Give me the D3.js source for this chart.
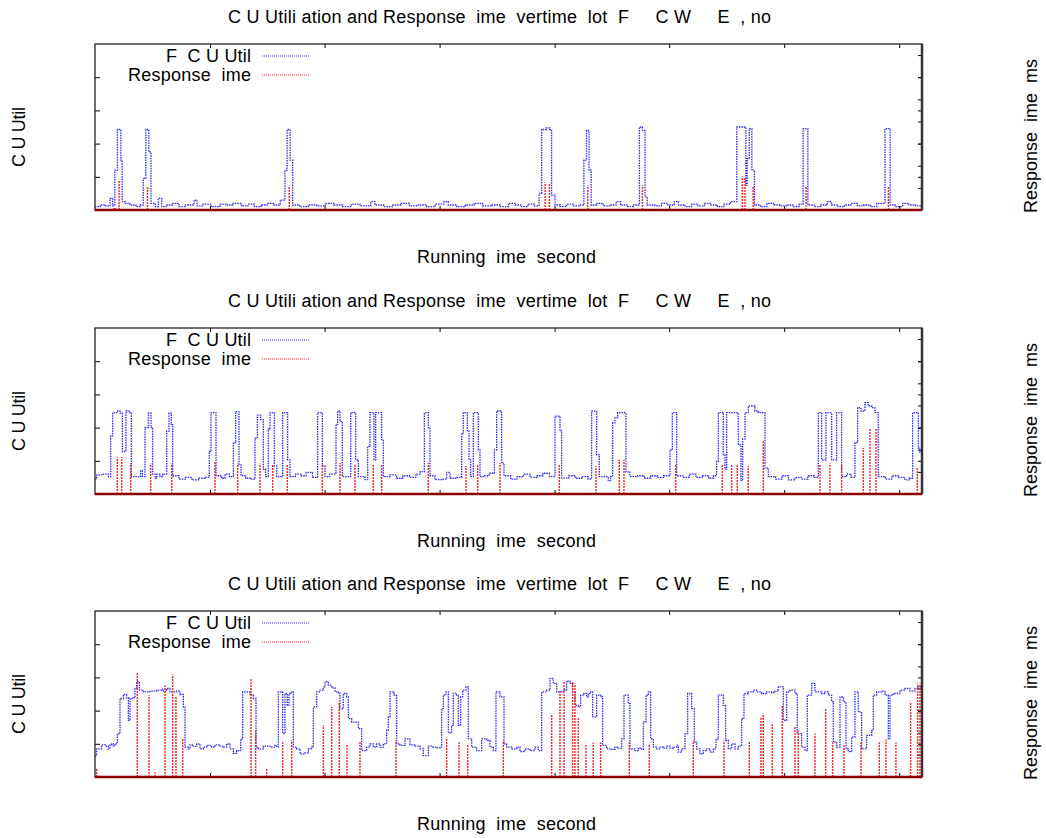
<!DOCTYPE html>
<html><head><meta charset="utf-8">
<script src="https://cdn.jsdelivr.net/npm/d3@7"></script>
<style>
body{margin:0;background:#fff}
text{font-family:"Liberation Sans",Arial,Helvetica,sans-serif;fill:#000;white-space:pre}
</style></head>
<body><svg id="chart" width="1046" height="838"></svg>
<script>
// ---------- texts ----------
const titleText = "C U Utili ation and Response  ime  vertime  lot  F     C W     E  , no";
const xLabelText = "Running  ime  second";
const yLabelText = "C U Util";
const y2LabelText = "Response  ime  ms";
const legendLabels = ["F  C U Util", "Response  ime"];

// ---------- ticks ----------
const xTicks = [267, 533, 800, 1067, 1333, 1600, 1867];
const cpuTicks = [20, 40, 60, 80];
const rtTicks = [200, 400, 600, 800, 1000, 1200, 1400];

// ---------- panel 1 ----------
const p1CpuT = [0,12,25,35,41,46,52,60,63,70,81,95,105,112,118,125,130,140,147,155,165,180,195,210,230,237,250,270,290,305,320,340,355,370,385,400,415,430,441,446,453,459,475,495,515,535,555,575,595,615,640,650,670,690,710,730,750,770,790,810,820,840,860,880,900,920,940,960,975,990,1005,1020,1031,1037,1048,1056,1060,1068,1080,1095,1110,1125,1135,1141,1147,1152,1165,1180,1195,1210,1220,1235,1250,1264,1271,1277,1282,1300,1315,1330,1345,1355,1370,1385,1400,1415,1430,1445,1460,1475,1490,1511,1514,1519,1525,1531,1545,1560,1575,1590,1605,1620,1635,1644,1655,1670,1685,1700,1710,1725,1740,1755,1770,1785,1800,1815,1834,1846,1860,1875,1890,1905];
const p1CpuV = [2,3,2.5,7,2.5,24,48.5,30,5,4,3,2,3,19,48.5,35,4,2,7,2,3,4,2,3,6,2.5,3.5,2,3.5,3,4,2.5,3.5,2,3,4,3,6,24,48.5,30,3,2,3,2.5,4,3,2,3.5,2.5,5,3,2,3,4,2.5,3,2,3.5,5,3,2,3,4,2.5,3,2,4,3,2,3.5,2.5,10,48.5,49.5,48.5,9,3,2,3.5,2.5,3,30,48,24,3,4,2.5,3,5,3,2,3,50,48,8,3,2.5,4,3,5,3,2,3.5,2.5,4,3,2,3.5,5,50,15,31,49,24,3,2,4,3,2.5,3,2,3.5,49,3,2,3,5,3,2,3,4,2.5,3,2,4,49,3,2,4,3,2.5];
const p1RtT = [44,48,56,122,451,1045,1055,1144,1271,1503,1509,1528,1651,1842];
const p1RtV = [25,25,273,218,218,248,245,221,221,303,295,212,212,215];

// ---------- panel 2 ----------
const p2CpuT = [0,3.9,15.5,31,36.4,41,50.3,58,63.5,72,79,84.4,106,110,116,123.8,130,133.9,139.3,143.2,150.9,157,166.4,171.8,177.2,180.3,195,210,225,240,255,265.4,269.3,280.9,294,301.8,312,321.2,326.6,334.3,339,350,362,371.5,376.9,384.6,390.8,396.2,402.4,406.3,416.3,421.8,435.7,447.3,452.7,465,478,490,505,516.9,527.8,534,545,559.5,563.4,568.8,574.2,593.6,605.2,611.4,626.8,633,638.4,647.7,651.6,665.5,669.4,685,700,715,730,745,755,764.6,773.9,777.8,789.4,805,816.4,824.2,840,851.3,855.1,864.4,868.3,872.1,878.3,889.9,893.8,905,915,927.1,932.5,944.1,949.5,965,980,995,1010,1025,1040,1055,1068,1079.5,1083.4,1100,1115,1130,1145,1153,1164.6,1170.8,1191.7,1197,1201.8,1207.2,1213.4,1232.7,1242,1260,1275,1290,1305,1320,1334.9,1340.3,1350.4,1365,1380,1395,1410,1425,1436,1443.2,1447.1,1458.7,1462.6,1466.4,1493.5,1499.7,1503.6,1509,1516.7,1524.5,1532.2,1540,1555.4,1563.2,1580,1595,1610,1625,1640,1655,1670,1679.3,1687,1697,1710.2,1721.8,1733.4,1745,1755,1764.4,1770.6,1778.3,1787.6,1795.3,1803.1,1810.8,1818.5,1835,1850,1865,1880,1890,1898.3,1911.4,1915.3];
const p2CpuV = [9,11.5,12,10.5,35,49,50,48.7,25.6,50,49,10.5,14,10.5,40,48.7,40,12,9.5,12,10.5,12,37.8,48.7,41.8,11,9,10,8.5,9.5,10,25.6,49,11,9.5,12,10.5,31,49.6,17.6,11,9.5,9,33.7,47.5,44.8,15,10.5,39,49,17,10.5,49,20.6,10.5,12,11,13,10,49,17,10.5,12,42,50,43.8,10.5,49,20.6,10.5,8.6,28.7,49,20.6,49,32.7,10.5,11.5,9.5,11,10,12,13.5,49,40,11,8.6,9,13,9.5,10,36.7,49,38,20.6,10.5,49,26.6,10.5,11,12.5,26.6,50,18.6,11,9,10.5,12,10,11,12.5,10.5,46.9,38,9.6,11,9.5,10.5,9,49.9,23.6,10.5,8,10.5,42.8,46,49,13.3,10.5,11,9.5,11,10,11,26.6,49,11,10,12,10,11,9.5,11,19.6,49,23.6,15,49,29.7,8,33,49,53,53,50,49,15.6,10.5,9,11,8.5,10,9,11,10,49,20.6,49,20.6,49,10.5,12,10,31,52,50,55,53,52,49,10.5,9,11,10,8.5,9.5,49,27.7,25];
const p2RtT = [51.8,61.9,82.8,129.2,178,278.6,331.2,383,412.5,446.5,527.8,568.8,603.6,646,665.5,773.9,861.3,888.4,940.2,1078,1163,1217.2,1228.1,1348,1456.4,1478,1491.2,1516.7,1551.6,1683.1,1706.3,1733.4,1783.7,1799.2,1813.1,1909.1];
const p2RtV = [333,334,279,276,276,294,276,276,270,270,270,279,270,270,270,279,254,270,279,272,254,309,309,270,262,262,270,254,476,270,276,265,415,597,597,243];

// ---------- panel 3 ----------
const p3CpuT = [0,3.9,15.5,23.2,31,34.8,38.7,42.6,46.4,51.9,58,65.8,73.5,77.4,81.3,89,92.9,96.7,102.9,112.2,127.7,143.2,154.8,158.6,166.4,174.1,185.7,189.6,197.3,205.1,208.9,216.7,220.6,228.3,236,243.8,251.5,259.3,270.8,278.6,290.2,297.9,305.7,313.4,321.2,328.9,338.2,342.8,359.9,367.6,373.8,379.2,390.8,406.3,417.9,421.8,425.6,435.7,441.1,446.5,450.4,456.6,460.4,468.2,475.9,487.5,495.3,503,506.9,514.6,522.4,530.1,534,541.7,549.4,557.2,564.9,568.8,576.5,584.3,588.1,595.9,603.6,611.4,619.1,630.7,638.4,646.2,653.9,661.7,669.4,677.1,681,684.9,694.2,700.3,708.1,719.7,731.3,742.9,754.5,762.3,773.9,781.6,793.2,801,804.8,808.7,814.9,820.3,828,831.9,839.6,843.5,848.9,853.6,861.3,866.7,874.5,886.1,897.7,909.3,917,924.8,930.9,940.2,949.5,955.7,967.3,978.9,986.7,998.2,1009.9,1021.5,1029.2,1037,1048.6,1056.3,1064,1071.8,1087.2,1095,1102.7,1108.9,1114.3,1122,1127.5,1135.2,1141.4,1145.3,1150.7,1155.3,1164.6,1173.9,1178.5,1187.8,1199.5,1207.2,1214.9,1222.7,1228.1,1238.1,1242,1253.6,1261.4,1269.1,1273,1279.2,1284.6,1290,1296.2,1303.9,1311.7,1319.4,1327.1,1334.9,1342.6,1350.4,1354.2,1362,1369.7,1375.9,1385.2,1391.4,1396.8,1404.5,1412.3,1420,1427.7,1435.5,1441.7,1447.1,1458.7,1464.1,1470.3,1478,1485.8,1493.5,1501.3,1506.7,1516.7,1528.4,1536.1,1547.7,1559.3,1570.9,1578.7,1586.4,1598,1605.7,1613.5,1625.1,1630.5,1640.6,1648.3,1653.7,1663.8,1671.5,1687,1694.7,1702.5,1710.2,1714.1,1721.8,1729.6,1737.3,1743.5,1748.9,1756.6,1764.4,1772.1,1779.9,1791.5,1803.1,1807,1814.7,1826.3,1834,1841.8,1845.6,1853.4,1868.8,1880.5,1892.1,1903.7,1911.4];
const p3CpuV = [12.9,17,19.4,18.6,17,19.4,20,18.6,20,26.1,47.3,49.7,47.7,34.2,47.3,47.7,53.3,57.4,52.3,51.3,51.7,52.3,52.9,51.7,53.3,51.3,51.3,51.7,49.7,42.2,18,17,19.4,18.6,20,17,18,19,18,19.4,18.6,18,20,17,14.3,15.9,23,51.3,49.3,47.3,18,17,18.6,18,19,18,51.3,26.1,50.3,43.2,50.3,51.3,18,17,13.9,14.5,17,18,42.2,51.3,52.3,54.3,57.4,55.3,53.7,51.3,50.3,41.2,50.3,48.3,35.2,33.1,33.1,29.1,15.9,18,20,18,20,18,20,28.1,36.2,51.3,49.3,20,19,23,19.4,18.6,17,12.9,18.6,18,17.5,18,41.2,49.3,51.3,26.6,31.1,50.3,49.3,31.1,48.3,52.3,54.3,23,18,15.9,23,22,18,15.9,51.3,48.3,20,18,17,18,15.3,17,15.9,18,15.9,51.3,52.3,59.4,56.4,51.3,52.3,57.8,56.4,51.3,43.2,42.2,49.3,50.3,48.3,50.3,51.3,36.2,49.3,48.3,19,17,16.6,18,17.4,23,49.3,44.2,17,15.9,17.4,16.6,33.1,49.3,51.3,23,18,17,18,17.4,18.6,17.4,18,19,15,17,26.1,50.3,41.2,21,17,13.9,15.9,17,15,17,23,49.3,43.2,22,17,20,17,18.6,35.2,50.3,51.3,52.3,51.3,50.3,51.3,50.9,51.7,54.3,34.2,51.3,52.3,50.3,26.1,18,15.9,49.3,56.4,51.3,50.3,51.3,49.3,45.3,21,18,48.3,45.3,17,15.3,24,51.3,39.2,17,25.1,28.1,49.3,51.3,51.7,49.3,23,49.3,50.3,52.3,53.3,51.7,53.3,54.3];
const p3RtT = [3.9,98.3,125.4,139.3,162.5,180.3,188,203.5,362.2,373,398.5,435.7,456.6,530.1,549.4,567.2,585,615.2,698.8,816.4,845,865.2,948,1060.2,1079.5,1089,1108.9,1114.3,1122,1139.9,1156.9,1173.9,1240.5,1286.9,1389,1460.2,1519.1,1546.1,1551.6,1572.5,1595.7,1625.1,1632.8,1671.5,1696.3,1712.5,1738.8,1778.3,1820.9,1836.3,1859.5,1893.6,1909.9,1915.3];
const p3RtV = [73,945,739,40,830,927,724,345,885,421,73,315,330,467,633,679,300,321,330,352,315,300,330,564,785,870,864,845,543,300,309,315,315,300,330,330,321,543,573,491,648,452,421,391,624,315,300,315,315,336,309,679,845,845];

// ---------- build ----------
const panels = [
  {top:44,  cpuT:p1CpuT, cpuV:p1CpuV, rtT:p1RtT, rtV:p1RtV},
  {top:328, cpuT:p2CpuT, cpuV:p2CpuV, rtT:p2RtT, rtV:p2RtV},
  {top:611, cpuT:p3CpuT, cpuV:p3CpuV, rtT:p3RtT, rtV:p3RtV}
];
const L = 95, R = 922, PH = 166, TMAX = 1920;
const svg = d3.select("#chart");
const x = d3.scaleLinear().domain([0, TMAX]).range([L, R]);
const fs = 18;

panels.forEach(p => {
  const top = p.top, bot = top + PH;
  const y = d3.scaleLinear().domain([0, 100]).range([bot, top]);
  const yr = d3.scaleLinear().domain([0, 1500]).range([bot, top]);
  const g = svg.append("g");

  // title + labels
  g.append("text").attr("x", 499.5).attr("y", top - 21).attr("text-anchor", "middle")
    .attr("font-size", fs).attr("textLength", 543).attr("lengthAdjust", "spacing").text(titleText);
  g.append("text").attr("x", 506.5).attr("y", top + 219).attr("text-anchor", "middle")
    .attr("font-size", fs).attr("textLength", 179).attr("lengthAdjust", "spacing").text(xLabelText);
  g.append("text").attr("transform", `translate(25,${top + PH/2 + 10}) rotate(-90)`)
    .attr("text-anchor", "middle").attr("font-size", fs)
    .attr("textLength", 60).attr("lengthAdjust", "spacing").text(yLabelText);
  g.append("text").attr("transform", `translate(1037,${top + PH/2 + 9}) rotate(-90)`)
    .attr("text-anchor", "middle").attr("font-size", fs)
    .attr("textLength", 154).attr("lengthAdjust", "spacing").text(y2LabelText);

  // axes ticks (inward)
  const ax = (axis, tx, ty) => {
    const a = g.append("g").attr("transform", `translate(${tx},${ty})`).call(axis);
    a.select(".domain").remove();
    a.selectAll("line").attr("stroke", "#000");
    return a;
  };
  ax(d3.axisLeft(y).tickValues(cpuTicks).tickSize(-5).tickFormat(""), L, 0);
  ax(d3.axisRight(y).tickValues(cpuTicks).tickSize(-4).tickFormat(""), R, 0);
  ax(d3.axisRight(yr).tickValues(rtTicks).tickSize(-4).tickFormat(""), R, 0);
  ax(d3.axisTop(x).tickValues(xTicks).tickSize(-4).tickFormat(""), 0, top);
  ax(d3.axisBottom(x).tickValues(xTicks).tickSize(-4).tickFormat(""), 0, bot);

  // CPU step line
  const pts = p.cpuT.map((t, i) => [t, p.cpuV[i]]);
  pts.push([TMAX, p.cpuV[p.cpuV.length - 1]]);
  g.append("path").datum(pts)
    .attr("d", d3.line().x(d => x(d[0])).y(d => y(d[1])).curve(d3.curveStepAfter))
    .attr("fill", "none").attr("stroke", "#2a2aff").attr("stroke-width", 1.3)
    .attr("stroke-dasharray", "1.5,1");

  // Response time impulses
  g.selectAll("line.imp").data(p.rtT.map((t, i) => [t, p.rtV[i]])).enter()
    .append("line").attr("class", "imp")
    .attr("x1", d => x(d[0])).attr("x2", d => x(d[0]))
    .attr("y1", yr(0)).attr("y2", d => yr(d[1]))
    .attr("stroke", "#ff2020").attr("stroke-width", 1.4).attr("stroke-dasharray", "2,1");

  // box
  g.append("rect").attr("x", L).attr("y", top).attr("width", R - L).attr("height", PH)
    .attr("fill", "none").attr("stroke", "#222").attr("stroke-width", 1.3);
  g.append("line").attr("x1", R).attr("x2", R).attr("y1", top).attr("y2", bot)
    .attr("stroke", "#333").attr("stroke-width", 2.5);
  g.append("line").attr("x1", L).attr("x2", R).attr("y1", yr(0)).attr("y2", yr(0))
    .attr("stroke", "#8b0000").attr("stroke-width", 2.5);

  // legend
  const lc = ["#2a2aff", "#ff2020"];
  const lw = [85, 123];
  legendLabels.forEach((lab, i) => {
    const ly = top + 12 + i * 19;
    g.append("text").attr("x", 251).attr("y", ly + 6).attr("text-anchor", "end")
      .attr("font-size", fs).attr("textLength", lw[i]).attr("lengthAdjust", "spacing").text(lab);
    g.append("line").attr("x1", 262).attr("x2", 310).attr("y1", ly).attr("y2", ly)
      .attr("stroke", lc[i]).attr("stroke-width", 1).attr("stroke-dasharray", "1,1");
  });
});
</script></body></html>
